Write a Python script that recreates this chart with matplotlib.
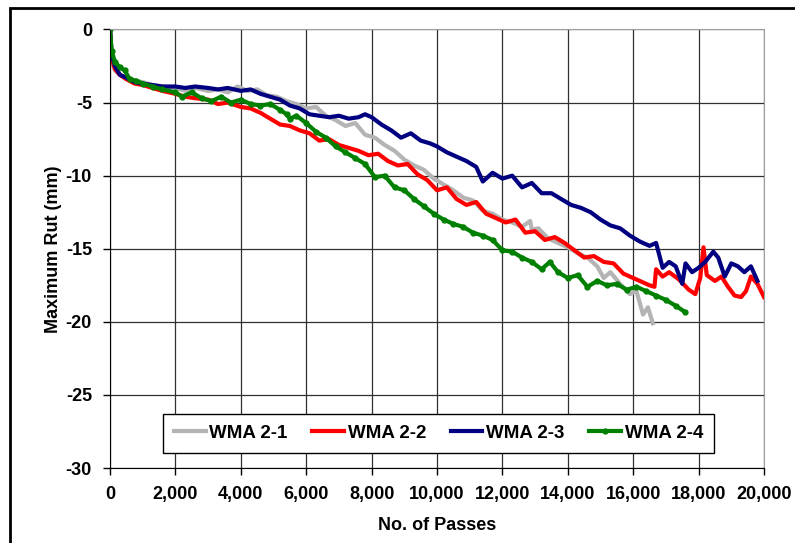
import matplotlib.pyplot as plt
from matplotlib.patches import Rectangle
from matplotlib.ticker import FuncFormatter

plt.rcParams['font.family'] = ['Liberation Sans', 'DejaVu Sans']
plt.rcParams['font.weight'] = 'bold'
plt.rcParams['axes.unicode_minus'] = False

# WMA 2-1 (gray)
x_21 = [0, 50, 150, 300, 500, 750, 1000, 1300, 1600, 2000, 2300, 2600, 3000, 3300, 3600,
        3900, 4200, 4500, 4800, 5100, 5400, 5700, 6000, 6300, 6600, 6900, 7200, 7500, 7800,
        8100, 8400, 8700, 9000, 9300, 9600, 9900, 10200, 10500, 10800, 11100, 11400, 11700,
        12000, 12300, 12600, 12850, 12900, 13100, 13400, 13700, 14000, 14300, 14600, 14900,
        15100, 15300, 15600, 15900, 16100, 16300, 16450, 16600]
y_21 = [0, -2.2, -2.8, -3.1, -3.3, -3.5, -3.6, -3.8, -3.9, -4.0, -4.2, -4.0, -4.2, -4.1, -4.3,
        -3.9, -4.2, -4.1, -4.5, -4.6, -4.9, -5.1, -5.4, -5.3, -5.9, -6.2, -6.6, -6.4, -7.2,
        -7.4, -7.9, -8.3, -8.9, -9.3, -9.6, -10.2, -10.6, -11.0, -11.5, -11.7, -12.4, -12.6,
        -13.0, -13.2, -13.5, -13.1, -13.7, -13.6, -14.3, -14.6, -14.9, -15.3, -15.6, -16.2,
        -17.0, -16.6, -17.4, -18.1, -17.9, -19.5, -19.0, -20.1]

# WMA 2-2 (red)
x_22 = [0, 50, 150, 300, 500, 750, 1000, 1300, 1600, 2000, 2300, 2600, 3000, 3300, 3600,
        4000, 4300, 4600, 4900, 5200, 5500, 5800, 6100, 6400, 6700, 7000, 7300, 7600, 7900,
        8200, 8500, 8800, 9100, 9400, 9700, 10000, 10300, 10600, 10900, 11200, 11500, 11800,
        12100, 12400, 12700, 13000, 13300, 13600, 13900, 14200, 14500, 14800, 15100, 15400,
        15700, 16000, 16200, 16500, 16650, 16700, 16900, 17100, 17400, 17700, 17900, 18050,
        18150, 18250, 18500, 18700, 18900, 19100, 19300, 19450, 19600, 19800, 20000]
y_22 = [0, -2.0, -2.7, -3.1, -3.4, -3.7, -3.8, -4.0, -4.2, -4.4, -4.6, -4.7, -4.8, -5.1, -5.0,
        -5.3, -5.4, -5.7, -6.1, -6.5, -6.6, -6.9, -7.1, -7.6, -7.5, -7.9, -8.1, -8.3, -8.6,
        -8.5, -9.0, -9.3, -9.2, -9.9, -10.3, -11.0, -10.8, -11.6, -12.0, -11.8, -12.6, -12.9,
        -13.2, -13.0, -13.9, -13.8, -14.4, -14.2, -14.6, -15.1, -15.6, -15.5, -15.9, -16.0,
        -16.7, -17.0, -17.2, -17.5, -17.6, -16.4, -16.9, -16.6, -17.1, -17.8, -18.1, -17.0,
        -14.9, -16.8, -17.2, -16.9, -17.6, -18.2, -18.3, -17.9, -16.9, -17.4, -18.3]

# WMA 2-3 (navy)
x_23 = [0, 50, 150, 300, 500, 750, 1000, 1300, 1600, 2000, 2300, 2600, 3000, 3300, 3600,
        4000, 4300, 4600, 4900, 5200, 5500, 5800, 6100, 6400, 6700, 7000, 7300, 7600, 7800,
        8000, 8300, 8600, 8900, 9200, 9500, 9800, 10000, 10300, 10600, 10900, 11200, 11400,
        11700, 12000, 12300, 12600, 12900, 13200, 13500, 13800, 14100, 14400, 14700, 15000,
        15300, 15600, 15900, 16200, 16500, 16700, 16900, 17100, 17300, 17500, 17600, 17800,
        18000, 18200, 18450, 18600, 18800, 19000, 19200, 19400, 19600, 19800]
y_23 = [0, -1.7, -2.5, -3.1, -3.3, -3.6, -3.7, -3.8, -3.9, -3.9, -4.0, -3.9, -4.0, -4.1, -4.0,
        -4.2, -4.1, -4.4, -4.6, -4.8, -5.2, -5.4, -5.8, -5.9, -6.0, -5.9, -6.1, -6.0, -5.8,
        -6.0, -6.5, -6.9, -7.4, -7.1, -7.6, -7.8, -8.0, -8.4, -8.7, -9.0, -9.4, -10.4,
        -9.8, -10.2, -10.0, -10.8, -10.5, -11.2, -11.2, -11.6, -12.0, -12.2, -12.5, -13.0,
        -13.4, -13.6, -14.1, -14.5, -14.8, -14.6, -16.3, -15.9, -16.2, -17.4, -16.0, -16.6,
        -16.3, -15.9, -15.2, -15.6, -16.9, -16.0, -16.2, -16.6, -16.2, -17.2]

# WMA 2-4 (green)
x_24 = [0, 50, 150, 300, 450, 600, 800, 1000, 1300, 1600, 2000, 2200, 2500, 2800, 3100,
        3400, 3700, 4000, 4300, 4600, 4900, 5200, 5400, 5500, 5700, 6000, 6300, 6600, 6900,
        7200, 7500, 7800, 8100, 8400, 8700, 9000, 9300, 9600, 9900, 10200, 10500, 10800,
        11100, 11400, 11700, 12000, 12300, 12600, 12900, 13200, 13450, 13700, 14000, 14300,
        14600, 14900, 15200, 15500, 15800, 16100, 16400, 16700, 17000, 17300, 17570]
y_24 = [0, -1.5, -2.2, -2.6, -2.8, -3.4, -3.5, -3.7, -3.9, -4.1, -4.3, -4.6, -4.3, -4.7, -4.9,
        -4.6, -5.0, -4.8, -5.1, -5.2, -5.1, -5.5, -5.8, -6.1, -5.9, -6.4, -7.0, -7.4, -8.0,
        -8.4, -8.8, -9.2, -10.1, -10.0, -10.8, -11.0, -11.6, -12.1, -12.6, -13.0, -13.3, -13.5,
        -13.9, -14.1, -14.4, -15.1, -15.2, -15.6, -15.9, -16.4, -15.9, -16.6, -17.0, -16.8,
        -17.6, -17.2, -17.5, -17.4, -17.8, -17.6, -17.9, -18.2, -18.5, -18.9, -19.3]

fig = plt.figure(figsize=(7.95, 5.43), dpi=100)
ax = fig.add_axes([0.1384, 0.138, 0.8226, 0.8077])

ax.plot(x_21, y_21, color='#b4b4b4', lw=3.0, label='WMA 2-1')
ax.plot(x_22, y_22, color='#ff0000', lw=3.0, label='WMA 2-2')
ax.plot(x_23, y_23, color='#000080', lw=3.0, label='WMA 2-3')
ax.plot(x_24, y_24, color='#008000', lw=3.0, marker='o', ms=3.5, label='WMA 2-4')

ax.set_xlim(0, 20000)
ax.set_ylim(-30, 0)
ax.set_xticks(range(0, 20001, 2000))
ax.set_yticks(range(-30, 1, 5))
ax.xaxis.set_major_formatter(FuncFormatter(lambda v, p: f'{int(v):,}'))
ax.grid(True, color='#303030', lw=0.9)
ax.tick_params(labelsize=13, length=5, width=1, color='black', pad=8)
for t in ax.xaxis.get_major_ticks() + ax.yaxis.get_major_ticks():
    t.label1.set_fontweight('bold')
for s in ['top', 'right']:
    ax.spines[s].set_color('#a0a0a0')
for s in ['left', 'bottom']:
    ax.spines[s].set_color('black')

ax.set_xlabel('No. of Passes', fontsize=13, fontweight='bold', labelpad=10)
ax.set_ylabel('Maximum Rut (mm)', fontsize=13, fontweight='bold', labelpad=3)

leg = ax.legend(loc='center', bbox_to_anchor=(0.502, 0.079), ncol=4,
                prop={'size': 13.5, 'weight': 'bold'},
                frameon=True, fancybox=False, edgecolor='black', framealpha=1,
                handlelength=1.7, handletextpad=0.2, columnspacing=1.3,
                borderpad=0.6)
leg.get_frame().set_linewidth(1.0)

fig.patches.append(Rectangle((10 / 795, -0.1), 1.2, 1 - 8 / 543 + 0.1,
                             transform=fig.transFigure, fill=False,
                             edgecolor='black', lw=2.0))

fig.savefig('out.png', dpi=100)
